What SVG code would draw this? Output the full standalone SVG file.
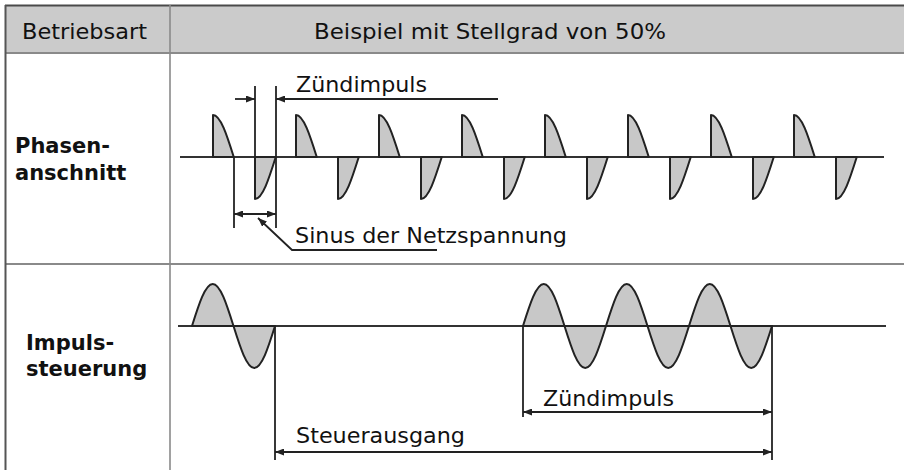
<svg xmlns="http://www.w3.org/2000/svg" xmlns:xlink="http://www.w3.org/1999/xlink" width="904" height="470" viewBox="0 0 904 470">
<style>
.txt{font-family:"DejaVu Sans","Liberation Sans",sans-serif;fill:#111;font-size:22px}
.bold{font-family:"DejaVu Sans","Liberation Sans",sans-serif;fill:#111;font-size:21px;font-weight:bold}
.wave{fill:#c8c8c8;stroke:#222;stroke-width:2;stroke-linejoin:round}
.axis{stroke:#333;stroke-width:2.2;fill:none}
.dim{stroke:#222;stroke-width:1.8;fill:none}
.grid{stroke:#8a8a8a;stroke-width:2;fill:none}
</style>
<defs>
<marker id="ah" viewBox="0 0 9 7" refX="9" refY="3.5" markerWidth="9" markerHeight="7" markerUnits="userSpaceOnUse" orient="auto-start-reverse">
<path d="M0,0 L9,3.5 L0,7 z" fill="#222"/>
</marker>
<path id="pos" class="wave" d="M0,0 V-42 C7.509,-42 13.983,-21.516 20.75,0 Z"/>
<path id="neg" class="wave" d="M0,0 V42 C7.509,42 13.983,21.516 20.75,0 Z"/>
<path id="per" class="wave" d="M0,0 C6.767,-21.516 13.241,-42 20.75,-42 C28.259,-42 34.733,-21.516 41.5,0 C48.267,21.516 54.741,42 62.25,42 C69.759,42 76.233,21.516 83,0 Z"/>
</defs>

<g id="table">
<rect x="5" y="5" width="899" height="48" fill="#cbcbcb"/>
<line x1="5" y1="5.5" x2="904" y2="5.5" stroke="#4a4a4a" stroke-width="2"/>
<line class="grid" x1="5" y1="53" x2="904" y2="53"/>
<line class="grid" x1="5" y1="264" x2="904" y2="264"/>
<line x1="5.5" y1="5" x2="5.5" y2="470" stroke="#555" stroke-width="2"/>
<line x1="170" y1="5" x2="170" y2="470" stroke="#8a8a8a" stroke-width="1.6"/>
</g>

<g id="header-betriebsart"><text class="txt" x="22" y="39" textLength="125" lengthAdjust="spacingAndGlyphs">Betriebsart</text></g>
<g id="header-beispiel"><text class="txt" x="314" y="39" textLength="352" lengthAdjust="spacingAndGlyphs">Beispiel mit Stellgrad von 50%</text></g>

<g id="label-phasenanschnitt">
<text class="bold" x="15" y="153">Phasen-</text>
<text class="bold" x="15" y="180">anschnitt</text>
</g>
<g id="label-impulssteuerung">
<text class="bold" x="26" y="350">Impuls-</text>
<text class="bold" x="26" y="376">steuerung</text>
</g>

<g id="wave-phasenanschnitt">
<line class="axis" x1="180" y1="157" x2="884" y2="157"/>
<use xlink:href="#pos" transform="translate(213,157)"/>
<use xlink:href="#pos" transform="translate(296,157)"/>
<use xlink:href="#pos" transform="translate(379,157)"/>
<use xlink:href="#pos" transform="translate(462,157)"/>
<use xlink:href="#pos" transform="translate(545,157)"/>
<use xlink:href="#pos" transform="translate(628,157)"/>
<use xlink:href="#pos" transform="translate(711,157)"/>
<use xlink:href="#pos" transform="translate(794,157)"/>
<use xlink:href="#neg" transform="translate(255,157)"/>
<use xlink:href="#neg" transform="translate(338,157)"/>
<use xlink:href="#neg" transform="translate(421,157)"/>
<use xlink:href="#neg" transform="translate(504,157)"/>
<use xlink:href="#neg" transform="translate(587,157)"/>
<use xlink:href="#neg" transform="translate(670,157)"/>
<use xlink:href="#neg" transform="translate(753,157)"/>
<use xlink:href="#neg" transform="translate(836,157)"/>
</g>

<g id="wave-impulssteuerung">
<line class="axis" x1="178" y1="326" x2="886" y2="326"/>
<use xlink:href="#per" transform="translate(192,326)"/>
<use xlink:href="#per" transform="translate(523,326)"/>
<use xlink:href="#per" transform="translate(606,326)"/>
<use xlink:href="#per" transform="translate(689,326)"/>
</g>

<g id="label-zuendimpuls-1"><text class="txt" x="296" y="92" textLength="131" lengthAdjust="spacingAndGlyphs">Zündimpuls</text></g>
<g id="label-sinus"><text class="txt" x="295" y="243" textLength="272" lengthAdjust="spacingAndGlyphs">Sinus der Netzspannung</text></g>
<g id="label-zuendimpuls-2"><text class="txt" x="543" y="406" textLength="131" lengthAdjust="spacingAndGlyphs">Zündimpuls</text></g>
<g id="label-steuerausgang"><text class="txt" x="296" y="443" textLength="169" lengthAdjust="spacingAndGlyphs">Steuerausgang</text></g>

<g id="connectors">
<line class="dim" x1="255" y1="86" x2="255" y2="157"/>
<line class="dim" x1="276" y1="86" x2="276" y2="228"/>
<line class="dim" x1="234" y1="157" x2="234" y2="228"/>
<line class="dim" x1="235" y1="99" x2="255" y2="99" marker-end="url(#ah)"/>
<line class="dim" x1="498" y1="99" x2="276" y2="99" marker-end="url(#ah)"/>
<line class="dim" x1="234" y1="214" x2="276" y2="214" marker-start="url(#ah)" marker-end="url(#ah)"/>
<polyline class="dim" points="437,250 292,250 258,218" marker-end="url(#ah)"/>
<line class="dim" x1="275" y1="326" x2="275" y2="460"/>
<line class="dim" x1="523" y1="326" x2="523" y2="417"/>
<line class="dim" x1="772" y1="326" x2="772" y2="460"/>
<line class="dim" x1="523" y1="412" x2="772" y2="412" marker-start="url(#ah)" marker-end="url(#ah)"/>
<line class="dim" x1="275" y1="452" x2="772" y2="452" marker-start="url(#ah)" marker-end="url(#ah)"/>
</g>
</svg>
